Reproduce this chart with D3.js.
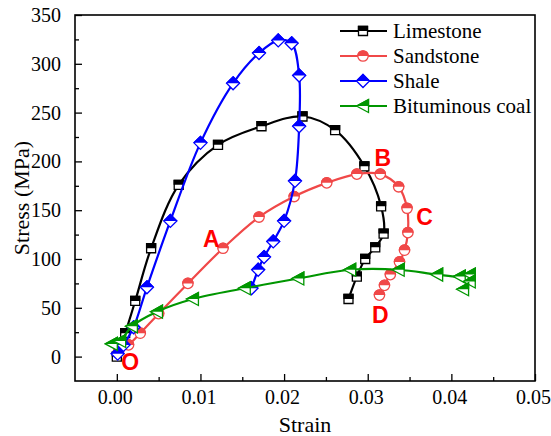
<!DOCTYPE html>
<html>
<head>
<meta charset="utf-8">
<script src="https://cdn.jsdelivr.net/npm/d3@7"></script>
<style>
  html, body { margin: 0; padding: 0; background: #fff; }
  svg { display: block; }
</style>
</head>
<body>
<svg id="chart" width="551" height="436"></svg>
<script>
// Stress–strain curves for four rock types
const seriesNames = ["Limestone", "Sandstone", "Shale", "Bituminous coal"];

const limestoneStrain = [0.0000, 0.0010, 0.0022, 0.0041, 0.0074, 0.0121, 0.0173, 0.0222, 0.0261, 0.0296, 0.0316, 0.0319, 0.0309, 0.0297, 0.0287, 0.0277];
const limestoneStress = [0, 24, 57, 111, 176, 217, 236, 246, 232, 195, 154, 126, 112, 100, 82, 59];

const sandstoneStrain = [0.0002, 0.0014, 0.0028, 0.0050, 0.0085, 0.0127, 0.0170, 0.0212, 0.0251, 0.0287, 0.0315, 0.0337, 0.0347, 0.0348, 0.0344, 0.0338, 0.0327, 0.0320, 0.0314];
const sandstoneStress = [5, 12, 24, 44, 75, 111, 143, 164, 178, 187, 187, 174, 152, 127, 109, 97, 84, 73, 63];

const shaleStrain = [0.0001, 0.0008, 0.0020, 0.0036, 0.0064, 0.0100, 0.0139, 0.0170, 0.0193, 0.0209, 0.0218, 0.0218, 0.0213, 0.0200, 0.0187, 0.0176, 0.0169, 0.0161];
const shaleStress = [3, 12, 30, 71, 139, 219, 280, 311, 324, 321, 288, 236, 180, 139, 118, 102, 89, 70];

const coalStrain = [-0.0006, 0.0004, 0.0018, 0.0048, 0.0091, 0.0153, 0.0217, 0.0279, 0.0337, 0.0383, 0.0410, 0.0422, 0.0422, 0.0414];
const coalStress = [13, 16, 31, 46, 59, 70, 80, 89, 89, 84, 82, 84, 77, 69];

const xTickValues = [0.00, 0.01, 0.02, 0.03, 0.04, 0.05];
const xTickLabels = ["0.00", "0.01", "0.02", "0.03", "0.04", "0.05"];
const yTickValues = [0, 50, 100, 150, 200, 250, 300, 350];
const yTickLabels = ["0", "50", "100", "150", "200", "250", "300", "350"];

// Stage labels along the curves
const stageLabels = ["O", "A", "B", "C", "D"];
const stageStrain = [0.0016, 0.0113, 0.0318, 0.0368, 0.0315];
const stageStress = [-6, 121, 203, 143, 43];

const series = [
  { name: seriesNames[0], strain: limestoneStrain, stress: limestoneStress, color: "#000000", shape: "square" },
  { name: seriesNames[1], strain: sandstoneStrain, stress: sandstoneStress, color: "#f04848", shape: "circle" },
  { name: seriesNames[2], strain: shaleStrain, stress: shaleStress, color: "#0000ff", shape: "diamond" },
  { name: seriesNames[3], strain: coalStrain, stress: coalStress, color: "#009600", shape: "triangle" }
];

const SERIF = "'Liberation Serif', 'Times New Roman', serif";
const SANS = "'Liberation Sans', Arial, sans-serif";

const svg = d3.select("#chart");
const plot = { left: 75, right: 535, top: 15, bottom: 381 };

const x = d3.scaleLinear().domain([-0.005, 0.05]).range([plot.left, plot.right]);
const y = d3.scaleLinear().domain([-25, 350]).range([plot.bottom, plot.top]);

// Clip for the filled upper half of each marker
const defs = svg.append("defs");
defs.append("clipPath").attr("id", "upperHalf")
  .append("rect").attr("x", -20).attr("y", -20).attr("width", 40).attr("height", 20);

const shapes = {
  square: "M-4.5,-4.5H4.5V4.5H-4.5Z",
  circle: d3.symbol(d3.symbolCircle, Math.PI * 5.2 * 5.2)(),
  diamond: "M0,-6.5L6.5,0L0,6.5L-6.5,0Z",
  triangle: "M-6.5,0L5.5,-6.5L5.5,6.5Z"
};

function drawMarker(g, shape, color) {
  g.append("path").attr("d", shapes[shape])
    .attr("fill", "#fff").attr("stroke", color).attr("stroke-width", 1.3);
  g.append("path").attr("d", shapes[shape])
    .attr("fill", color).attr("stroke", color).attr("stroke-width", 1.3)
    .attr("clip-path", "url(#upperHalf)");
}

// Axes with inward ticks
const xAxis = d3.axisBottom(x).tickValues(xTickValues).tickSize(-7).tickFormat((d, i) => xTickLabels[i]).tickPadding(9);
const xMinor = d3.axisBottom(x).tickValues(d3.range(0, 0.0501, 0.005).filter(v => Math.abs(v * 100 - Math.round(v * 100)) > 1e-6)).tickSize(-4).tickFormat("");
const yAxis = d3.axisLeft(y).tickValues(yTickValues).tickSize(-7).tickFormat((d, i) => yTickLabels[i]).tickPadding(14);
const yMinor = d3.axisLeft(y).tickValues(d3.range(-25, 350, 50).filter(v => v > -25)).tickSize(-4).tickFormat("");

function styleAxis(g) {
  g.select(".domain").remove();
  g.selectAll(".tick line").attr("stroke", "#000").attr("stroke-width", 1.3);
  g.selectAll(".tick text").style("font-family", SERIF).style("font-size", "20px").attr("fill", "#000");
}

const gx = svg.append("g").attr("transform", `translate(0,${plot.bottom})`).call(xAxis).call(styleAxis);
gx.selectAll(".tick text").attr("dx", -2);
svg.append("g").attr("transform", `translate(0,${plot.bottom})`).call(xMinor).call(styleAxis);
svg.append("g").attr("transform", `translate(${plot.left},0)`).call(yAxis).call(styleAxis);
svg.append("g").attr("transform", `translate(${plot.left},0)`).call(yMinor).call(styleAxis);

// Frame
svg.append("rect")
  .attr("x", plot.left).attr("y", plot.top)
  .attr("width", plot.right - plot.left).attr("height", plot.bottom - plot.top)
  .attr("fill", "none").attr("stroke", "#000").attr("stroke-width", 1.6);

// Axis titles
svg.append("text").attr("x", (plot.left + plot.right) / 2).attr("y", 432)
  .attr("text-anchor", "middle").style("font-family", SERIF).style("font-size", "22px").text("Strain");
svg.append("text")
  .attr("transform", `translate(29,${(plot.top + plot.bottom) / 2}) rotate(-90)`)
  .attr("text-anchor", "middle").style("font-family", SERIF).style("font-size", "22px").text("Stress (MPa)");

// Curves and markers
const line = d3.line().x(d => x(d[0])).y(d => y(d[1])).curve(d3.curveCatmullRom.alpha(0.5));

series.forEach(s => {
  const pts = s.strain.map((v, i) => [v, s.stress[i]]);
  const g = svg.append("g");
  g.append("path").datum(pts).attr("d", line)
    .attr("fill", "none").attr("stroke", s.color).attr("stroke-width", 2.2);
  pts.forEach(p => {
    const m = g.append("g").attr("transform", `translate(${x(p[0])},${y(p[1])})`);
    drawMarker(m, s.shape, s.color);
  });
});

// Stage labels
stageLabels.forEach((t, i) => {
  svg.append("text")
    .attr("x", x(stageStrain[i])).attr("y", y(stageStress[i]))
    .attr("text-anchor", "middle").attr("dominant-baseline", "central")
    .style("font-family", SANS)
    .style("font-weight", "bold").style("font-size", "23px")
    .style("fill", "#ff0000").text(t);
});

// Legend
const legend = svg.append("g");
series.forEach((s, i) => {
  const cy = 31 + i * 25;
  legend.append("line").attr("x1", 340).attr("x2", 387).attr("y1", cy).attr("y2", cy)
    .attr("stroke", s.color).attr("stroke-width", 2.2);
  const m = legend.append("g").attr("transform", `translate(363,${cy})`);
  drawMarker(m, s.shape, s.color);
  legend.append("text").attr("x", 393).attr("y", cy + 7)
    .style("font-family", SERIF).style("font-size", "21px").text(s.name);
});
</script>
</body>
</html>
